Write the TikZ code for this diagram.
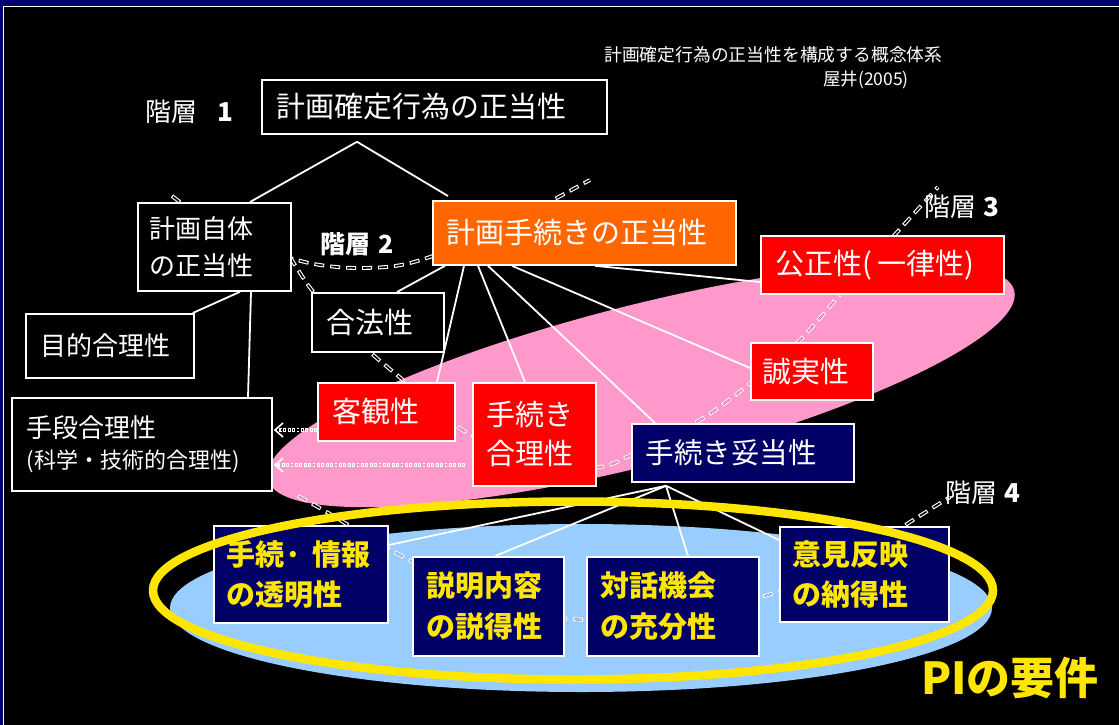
\documentclass[tikz,border=0pt]{standalone}
\usepackage{fontspec}
\setmainfont{Noto Sans CJK JP}
\usetikzlibrary{calc,arrows.meta}
\definecolor{navyframe}{RGB}{0,0,110}
\definecolor{boxnavy}{RGB}{0,0,102}
\definecolor{orangec}{RGB}{255,102,0}
\definecolor{redc}{RGB}{255,0,0}
\definecolor{pinkc}{RGB}{255,153,204}
\definecolor{bluec}{RGB}{153,204,255}
\definecolor{yellowc}{RGB}{255,230,0}
\newcommand\fsz[2]{\fontsize{#1}{#2}\selectfont}
\pgfdeclarelayer{bg}
\pgfdeclarelayer{fg}
\pgfsetlayers{bg,main,fg}
\begin{document}
\begin{tikzpicture}[x=1pt,y=-1pt,
  box/.style={draw=white, line width=1.8pt, anchor=north west, inner ysep=0pt, align=left, text=white},
  ybox/.style={box, fill=boxnavy, text=yellowc, font=\bfseries\fsz{29}{40}},
  lbl/.style={text=white, inner sep=0pt, anchor=west},
  conn/.style={draw=white, line width=1.8pt},
  hout/.style={draw=white, line width=3.8pt, dash pattern=on 10pt off 6pt},
  hin/.style={line width=1.6pt, dash pattern=on 7.8pt off 8.2pt, dash phase=14.9pt},
  dout/.style={draw=white, line width=3.2pt, dash pattern=on 2.8pt off 1.6pt},
  din/.style={line width=1.4pt, dash pattern=on 1.2pt off 3.2pt, dash phase=3.6pt, shorten >=7pt},
  tipb/.style={-{Straight Barb[length=8pt,width=14pt,line width=1.6pt]}},
  ltwo/.style={insert path={plot[smooth,tension=0.55] coordinates {(172,196) (235,240) (290,258) (320,265) (355,268) (395,266) (430,257) (490,234) (553,200) (590,180)}}},
  lthree/.style={insert path={plot[smooth,tension=0.5] coordinates {(290,257) (311,289) (340,322) (371,353) (403,380) (435,408) (466,432) (530,460) (597,467) (631,455) (700,420) (748,385) (800,340) (838,297) (870,262) (900,229) (938,187)}}},
  lfour/.style={insert path={plot[smooth,tension=0.5] coordinates {(298,496) (325,511) (350,526) (400,555) (480,596) (570,619) (670,614) (768,595) (850,560) (910,522) (950,497)}}}
]
\useasboundingbox (0,0) rectangle (1119,725);

% ---------- boxes ----------
\node[box, fill=black, minimum width=345pt, minimum height=54pt, inner xsep=15pt, text width=315pt, font=\fsz{29}{35}] (l1) at (261,79) {計画確定行為の正当性};
\node[box, fill=black, minimum width=153pt, minimum height=88pt, inner xsep=12pt, text width=129pt, font=\fsz{26}{37}] (jt) at (137,202) {計画自体\\の正当性};
\node[box, fill=orangec, minimum width=303pt, minimum height=64pt, inner xsep=14pt, text width=275pt, font=\fsz{29}{35}] (pt) at (432,200) {計画手続きの正当性};
\node[box, fill=black, minimum width=168pt, minimum height=64pt, inner xsep=15pt, text width=138pt, font=\fsz{26}{32}] (mk) at (25,313) {目的合理性};
\node[box, fill=black, minimum width=132pt, minimum height=59pt, inner xsep=15pt, text width=102pt, font=\fsz{29}{35}] (gh) at (311,292) {合法性};
\node[box, fill=black, minimum width=260pt, minimum height=93pt, inner xsep=15pt, text width=230pt, font=\fsz{26}{31}] (sd) at (11,397) {手段合理性\\{\fsz{22}{31}(科学・技術的合理性)}};
\node[box, fill=redc, minimum width=137pt, minimum height=58pt, inner xsep=15pt, text width=107pt, font=\fsz{29}{35}] (kk) at (317,382) {客観性};
\node[box, fill=redc, minimum width=123pt, minimum height=103pt, inner xsep=14pt, text width=95pt, font=\fsz{29}{39}] (tg) at (472,382) {手続き\\合理性};
\node[box, fill=boxnavy, minimum width=222pt, minimum height=58pt, inner xsep=14pt, text width=194pt, font=\fsz{28.5}{35}] (td) at (631,423) {手続き妥当性};
\node[box, fill=redc, minimum width=122pt, minimum height=57pt, inner xsep=12pt, text width=98pt, font=\fsz{29}{35}] (sj) at (750,342) {誠実性};
\node[box, fill=redc, minimum width=243pt, minimum height=58pt, inner xsep=15pt, text width=213pt, font=\fsz{29}{35}] (ks) at (760,235) {公正性(\hspace{5pt}一律性)};
\node[ybox, minimum width=174pt, minimum height=97pt, inner xsep=13pt, text width=148pt] (jh) at (213,525) {手続· 情報\\の透明性};
\node[ybox, minimum width=151pt, minimum height=99pt, inner xsep=14pt, text width=123pt, font=\bfseries\fsz{29}{41}] (sm) at (412,556) {説明内容\\の説得性};
\node[ybox, minimum width=172pt, minimum height=99pt, inner xsep=14pt, text width=144pt, font=\bfseries\fsz{29}{41}] (tw) at (586,556) {対話機会\\の充分性};
\node[ybox, minimum width=169pt, minimum height=95pt, inner xsep=13pt, text width=143pt] (ih) at (779,526) {意見反映\\の納得性};

% ---------- labels ----------
\node[lbl, font=\fsz{17.8}{20}] (title) at (604,55) {計画確定行為の正当性を構成する概念体系};
\node[lbl, font=\fsz{17.5}{20}] (auth) at (823,80) {屋井(2005)};
\node[lbl, font=\fsz{26}{28}] (lay1) at (145,112) {階層\hspace{20pt}\textbf{1}};
\node[lbl, font=\bfseries\fsz{25}{28}] (lay2) at (320,244) {階層\hspace{8pt}2};
\node[lbl, font=\fsz{26}{28}] (lay3) at (924,207) {階層\hspace{7pt}\textbf{3}};
\node[lbl, font=\fsz{26}{28}] (lay4) at (945,493) {階層\hspace{7pt}\textbf{4}};

\begin{pgfonlayer}{bg}
  \fill[navyframe] (0,0) rectangle (1119,725);
  \fill[black] (3,6) rectangle (1119,725);
  \draw[white, line width=1.3pt] (3.6,725) -- (3.6,6.6) -- (1119,6.6);
  \fill[pinkc, rotate around={14.2:(641,385)}] (641,385) ellipse [x radius=385pt, y radius=80pt];
  \fill[bluec] (581,608) ellipse [x radius=411pt, y radius=84pt];
  % layer boundaries (hollow dashes)
  \draw[hout, ltwo];   \draw[hin, draw=black, ltwo];
  \draw[hout, lthree]; \draw[hin, draw=black, lthree];
  \draw[hout, lfour];  \draw[hin, draw=black, lfour];
  % hollow dotted arrows
  \draw[dout, tipb] ($(kk.north west)+(0,48)$) -- ($(sd.north east)+(1,33)$);
  \draw[din, draw=black] ($(kk.north west)+(0,48)$) -- ($(sd.north east)+(1,33)$);
  \draw[dout, tipb] ($(tg.north west)+(-7,83)$) -- ($(sd.north east)+(1,68)$);
  \draw[din, draw=black] ($(tg.north west)+(-7,83)$) -- ($(sd.north east)+(1,68)$);
  \begin{scope}
    \clip[rotate around={14.2:(641,385)}] (641,385) ellipse [x radius=385pt, y radius=80pt];
    \draw[hin, draw=pinkc, lthree];
    \draw[hin, draw=pinkc, lfour];
    \draw[din, draw=pinkc] ($(kk.north west)+(0,48)$) -- ($(sd.north east)+(1,33)$);
    \draw[din, draw=pinkc] ($(tg.north west)+(-7,83)$) -- ($(sd.north east)+(1,68)$);
  \end{scope}
  \begin{scope}
    \clip (581,608) ellipse [x radius=411pt, y radius=84pt];
    \draw[hin, draw=bluec, lfour];
  \end{scope}
  % connectors
  \coordinate (apx1) at ($(l1.south west)+(96,7)$);
  \draw[conn] (apx1) -- ($(jt.north west)+(113,0)$);
  \draw[conn] (apx1) -- ($(pt.north west)+(16,-4)$);
  \draw[conn] ($(jt.south west)+(103,0)$) -- ($(mk.north east)+(-2,0)$);
  \draw[conn] ($(jt.south west)+(114,0)$) -- ($(sd.north west)+(237,0)$);
  \draw[conn] ($(pt.south west)+(13,0)$) -- ($(gh.north west)+(86,0)$);
  \draw[conn] ($(pt.south west)+(32,0)$) -- ($(kk.north west)+(120,0)$);
  \draw[conn] ($(pt.south west)+(46,0)$) -- ($(tg.north west)+(53,0)$);
  \draw[conn] ($(pt.south west)+(56,0)$) -- ($(td.north west)+(24,0)$);
  \draw[conn] ($(pt.south west)+(80,0)$) -- ($(sj.north west)+(0,26)$);
  \draw[conn] ($(pt.south west)+(163,0)$) -- ($(ks.north west)+(0,47)$);
  \coordinate (apx2) at ($(td.south west)+(35,3)$);
  \draw[conn] (apx2) -- ($(jh.north east)+(0,20)$);
  \draw[conn] (apx2) -- ($(sm.north west)+(83,0)$);
  \draw[conn] (apx2) -- ($(tw.north west)+(102,0)$);
  \draw[conn] (apx2) -- ($(ih.north west)+(0,14)$);
\end{pgfonlayer}

\begin{pgfonlayer}{fg}
  \draw[yellowc, line width=8.5pt] (573,590.5) ellipse [x radius=420pt, y radius=89pt];
  \node[lbl, text=yellowc, font=\bfseries\fsz{44}{48}] (pi) at (921,678) {PIの要件};
\end{pgfonlayer}
\end{tikzpicture}
\end{document}
